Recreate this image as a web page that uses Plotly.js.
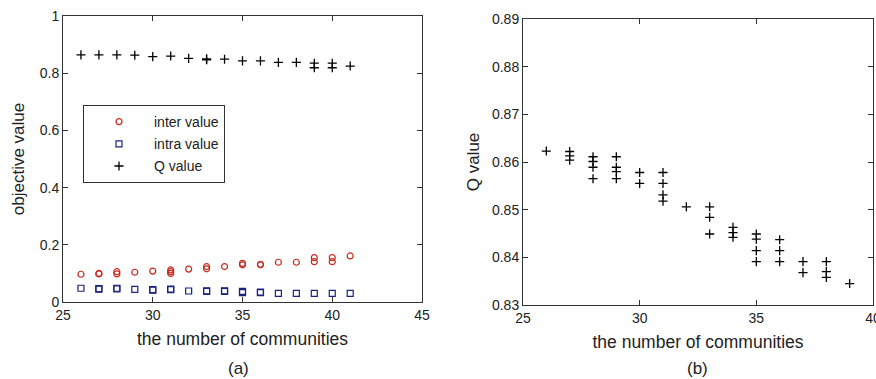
<!DOCTYPE html>
<html>
<head>
<meta charset="utf-8">
<script src="https://cdn.plot.ly/plotly-3.0.1.min.js"></script>
<style>
html,body{margin:0;padding:0;background:#fff;}
#chart{width:876px;height:379px;}
</style>
</head>
<body>
<div id="chart"></div>
<script>
// ---- Data (a): objective values vs number of communities ----
const interX = [26,27,27,28,28,29,30,31,31,31,32,33,33,34,35,35,36,36,37,38,39,39,40,40,41];
const interY = [0.097,0.100,0.098,0.106,0.098,0.104,0.108,0.112,0.106,0.100,0.115,0.124,0.116,0.124,0.135,0.130,0.132,0.130,0.139,0.139,0.155,0.141,0.155,0.141,0.161];

const intraX = [26,27,27,28,28,29,30,30,31,31,32,33,33,34,34,35,35,36,36,37,38,39,40,41];
const intraY = [0.048,0.047,0.045,0.048,0.046,0.044,0.043,0.041,0.045,0.043,0.0385,0.039,0.037,0.039,0.037,0.037,0.033,0.035,0.033,0.030,0.030,0.030,0.030,0.030];

const qLeftX = [26,27,28,29,30,31,32,33,33,34,35,36,37,38,39,39,40,40,41];
const qLeftY = [0.864,0.864,0.864,0.863,0.858,0.860,0.852,0.850,0.847,0.849,0.843,0.843,0.838,0.838,0.835,0.819,0.835,0.819,0.825];

// ---- Data (b): Q value vs number of communities ----
const qX = [26,27,27,27,28,28,28,28,29,29,29,29,30,30,31,31,31,31,32,33,33,33,34,34,34,35,35,35,35,36,36,36,37,37,38,38,38,39];
const qY = [0.8623,0.8622,0.8613,0.8604,0.8611,0.8601,0.8589,0.8565,0.8611,0.8589,0.8580,0.8565,0.8578,0.8555,0.8578,0.8555,0.8531,0.8518,0.8506,0.8506,0.8484,0.8449,0.8463,0.8452,0.8442,0.8449,0.8438,0.8414,0.8391,0.8437,0.8414,0.8391,0.8391,0.8368,0.8391,0.8370,0.8358,0.8345];

const xTitle = 'the number of communities';
const FONT = '"Liberation Sans", Arial, sans-serif';
const TXT = '#222';
const AX = '#333';

const plusMarker = {symbol: 'cross-thin-open', size: 6.5, color: '#000', line: {width: 1.3, color: '#000'}};

const traces = [
  {x: interX, y: interY, name: 'inter value', type: 'scatter', mode: 'markers',
   xaxis: 'x', yaxis: 'y', legendgroup: 'a',
   marker: {symbol: 'circle-open', size: 6, color: '#c8281e', line: {width: 1.2, color: '#c8281e'}}},
  {x: intraX, y: intraY, name: 'intra value', type: 'scatter', mode: 'markers',
   xaxis: 'x', yaxis: 'y', legendgroup: 'b',
   marker: {symbol: 'square-open', size: 6, color: '#1a237e', line: {width: 1.2, color: '#1a237e'}}},
  {x: qLeftX, y: qLeftY, name: 'Q value', type: 'scatter', mode: 'markers',
   xaxis: 'x', yaxis: 'y', legendgroup: 'c', marker: plusMarker},
  {x: qX, y: qY, name: 'Q', type: 'scatter', mode: 'markers', showlegend: false,
   xaxis: 'x2', yaxis: 'y2', marker: plusMarker}
];

const axBase = {
  showgrid: false, zeroline: false, showline: true, mirror: 'ticks',
  linecolor: AX, linewidth: 1, ticks: 'inside', ticklen: 5, tickcolor: AX,
  ticklabeloverflow: 'allow',
  tickfont: {family: FONT, size: 14, color: TXT}
};

const layout = {
  width: 876, height: 379,
  margin: {l: 0, r: 0, t: 0, b: 0},
  paper_bgcolor: '#fff', plot_bgcolor: '#fff',
  font: {family: FONT, color: TXT},
  showlegend: true,
  legend: {
    x: 83/876, y: 1 - 105/379, xanchor: 'left', yanchor: 'top',
    bgcolor: '#fff', bordercolor: AX, borderwidth: 1,
    font: {family: FONT, size: 14, color: TXT},
    tracegroupgap: 1, itemwidth: 60
  },
  xaxis: Object.assign({}, axBase, {
    domain: [63/876, 422/876], range: [25, 45], dtick: 5, tick0: 25, anchor: 'y',
    title: {text: xTitle, font: {family: FONT, size: 17.5, color: TXT}, standoff: 10}
  }),
  yaxis: Object.assign({}, axBase, {
    domain: [1 - 302/379, 1 - 16/379], range: [0, 1], dtick: 0.2, anchor: 'x',
    title: {text: 'objective value', font: {family: FONT, size: 17, color: TXT}, standoff: 10}
  }),
  xaxis2: Object.assign({}, axBase, {
    domain: [523/876, 873/876], range: [25, 40], dtick: 5, tick0: 25, anchor: 'y2',
    title: {text: xTitle, font: {family: FONT, size: 17.5, color: TXT}, standoff: 10}
  }),
  yaxis2: Object.assign({}, axBase, {
    domain: [1 - 305/379, 1 - 19/379], range: [0.83, 0.89], dtick: 0.01, anchor: 'x2',
    title: {text: 'Q value', font: {family: FONT, size: 17, color: TXT}, standoff: 8}
  }),
  annotations: [
    {text: '(a)', xref: 'paper', yref: 'paper', x: 238/876, y: 1 - 368/379,
     xanchor: 'center', yanchor: 'middle', showarrow: false, font: {family: FONT, size: 17, color: TXT}},
    {text: '(b)', xref: 'paper', yref: 'paper', x: 697/876, y: 1 - 368/379,
     xanchor: 'center', yanchor: 'middle', showarrow: false, font: {family: FONT, size: 17, color: TXT}}
  ]
};

Plotly.newPlot('chart', traces, layout, {displayModeBar: false, staticPlot: true});
</script>
</body>
</html>
